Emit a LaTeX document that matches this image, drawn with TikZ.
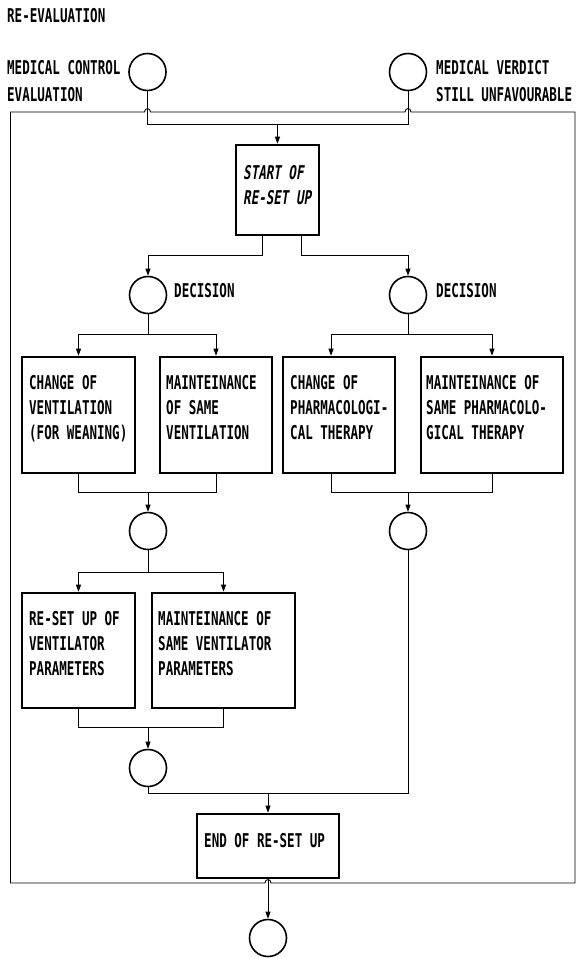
\documentclass[tikz,border=0pt]{standalone}
\usepackage{fontspec}
\newfontfamily\plotfont[FakeStretch=0.66]{DejaVu Sans Mono}
\newfontfamily\plotslant[FakeStretch=0.66,FakeSlant=0.15]{DejaVu Sans Mono}
\usetikzlibrary{arrows.meta,calc}

\begin{document}
\begin{tikzpicture}[x=1pt,y=-1pt,
  % multi-line text nodes sit on the baseline of their last line
  txt/.style={font=\plotfont\bfseries\fontsize{19}{25}\selectfont, inner sep=0, align=left, anchor=base west},
  toptxt/.style={txt, font=\plotfont\bfseries\fontsize{19}{26.5}\selectfont},
  slanttxt/.style={txt, font=\plotslant\bfseries\fontsize{19}{25}\selectfont},
  junction/.style={circle, draw, line width=1.6, minimum size=37, inner sep=0},
  stepbox/.style={draw, line width=2.6, inner sep=0},
  frame/.style={line width=0.9},
  conn/.style={line width=0.9},
  arr/.style={conn, -{Triangle[length=7pt,width=5pt]}}]

\fill[white] (0,0) rectangle (576,959);
\useasboundingbox (0,0) rectangle (576,959);

% heading and entry labels
\node[txt] (title) at (7,22) {RE-EVALUATION};
\node[toptxt] (lblA) at (7,101) {MEDICAL CONTROL\\EVALUATION};
\node[toptxt] (lblB) at (436,101) {MEDICAL VERDICT\\STILL UNFAVOURABLE};

% entry junctions
\node[junction] (cA) at (147.5,72) {};
\node[junction] (cB) at (408,72) {};

% enclosing frame, with hops where lines cross it
\draw[frame] (10.5,112) -- (144.5,112) .. controls (144.5,107.5) and (150.5,107.5) .. (150.5,112)
  -- (405,112) .. controls (405,107.5) and (411,107.5) .. (411,112)
  -- (575,112) -- (575,883) -- (271,883) .. controls (271,878.5) and (265,878.5) .. (265,883)
  -- (10.5,883) -- cycle;

% start box
\node[stepbox, minimum width=83, minimum height=90] (start) at (277.5,190) {};
\node[slanttxt] (startT) at (243,204) {START OF\\RE-SET UP};

\coordinate (hTop) at (0,124);
\draw[conn] (cA.south) -- (cA.south |- hTop) -- (cB.south |- hTop) -- (cB.south);
\draw[arr] (start.north |- hTop) -- (start.north);

% decisions
\node[junction] (dL) at (148,295) {};
\node[junction] (dR) at (408,295) {};
\node[txt] (dLT) at (174,297) {DECISION};
\node[txt] (dRT) at (436,297) {DECISION};

\coordinate (hS) at (0,255);
\draw[arr] ([xshift=-15.5]start.south) -- ([xshift=-15.5]start.south |- hS) -- (dL.north |- hS) -- (dL.north);
\draw[arr] ([xshift=23.5]start.south) -- ([xshift=23.5]start.south |- hS) -- (dR.north |- hS) -- (dR.north);

% first row of actions
\node[stepbox, minimum width=113, minimum height=116] (b1) at (78.5,415) {};
\node[stepbox, minimum width=112, minimum height=116] (b2) at (216,415) {};
\node[stepbox, minimum width=112, minimum height=116] (b3) at (339,415) {};
\node[stepbox, minimum width=142, minimum height=116] (b4) at (492,415) {};
\node[txt] (t1) at (29,439) {CHANGE OF\\VENTILATION\\(FOR WEANING)};
\node[txt] (t2) at (166,439) {MAINTEINANCE\\OF SAME\\VENTILATION};
\node[txt] (t3) at (290,439) {CHANGE OF\\PHARMACOLOGI-\\CAL THERAPY};
\node[txt] (t4) at (426,439) {MAINTEINANCE OF\\SAME PHARMACOLO-\\GICAL THERAPY};

\coordinate (hD) at (0,334);
\draw[conn] (dL.south) -- (dL.south |- hD);
\draw[arr] (dL.south |- hD) -- (b1.north |- hD) -- (b1.north);
\draw[arr] (dL.south |- hD) -- (b2.north |- hD) -- (b2.north);
\draw[conn] (dR.south) -- (dR.south |- hD);
\draw[arr] (dR.south |- hD) -- ([xshift=-8]b3.north |- hD) -- ([xshift=-8]b3.north);
\draw[arr] (dR.south |- hD) -- (b4.north |- hD) -- (b4.north);

% merge into second-level junctions
\node[junction] (m1) at (148,531) {};
\node[junction] (m2) at (408,531) {};
\coordinate (hM) at (0,492);
\draw[conn] (b1.south) -- (b1.south |- hM) -- (b2.south |- hM) -- (b2.south);
\draw[conn] ([xshift=-8]b3.south) -- ([xshift=-8]b3.south |- hM) -- (b4.south |- hM) -- (b4.south);
\draw[arr] (m1.north |- hM) -- (m1.north);
\draw[arr] (m2.north |- hM) -- (m2.north);

% ventilator settings
\node[stepbox, minimum width=113, minimum height=115] (b5) at (78.5,650.5) {};
\node[stepbox, minimum width=143, minimum height=115] (b6) at (223.5,650.5) {};
\node[txt] (t5) at (29,675) {RE-SET UP OF\\VENTILATOR\\PARAMETERS};
\node[txt] (t6) at (158,675) {MAINTEINANCE OF\\SAME VENTILATOR\\PARAMETERS};

\coordinate (hF) at (0,572);
\draw[conn] (m1.south) -- (m1.south |- hF);
\draw[arr] (m1.south |- hF) -- (b5.north |- hF) -- (b5.north);
\draw[arr] (m1.south |- hF) -- (b6.north |- hF) -- (b6.north);

\node[junction] (m3) at (148,768) {};
\coordinate (hG) at (0,727);
\draw[conn] (b5.south) -- (b5.south |- hG) -- (b6.south |- hG) -- (b6.south);
\draw[arr] (m3.north |- hG) -- (m3.north);

% end of re-set up
\node[stepbox, minimum width=142, minimum height=64] (endbox) at (268,846) {};
\node[txt] (endT) at (204,847) {END OF RE-SET UP};
\node[junction] (fin) at (268,938) {};

\coordinate (hE) at (0,793);
\draw[conn] (m3.south) -- (m3.south |- hE) -- (m2.south |- hE) -- (m2.south);
\draw[arr] (endbox.north |- hE) -- (endbox.north);
\draw[arr] (endbox.south) -- (fin.north);

\end{tikzpicture}
\end{document}
